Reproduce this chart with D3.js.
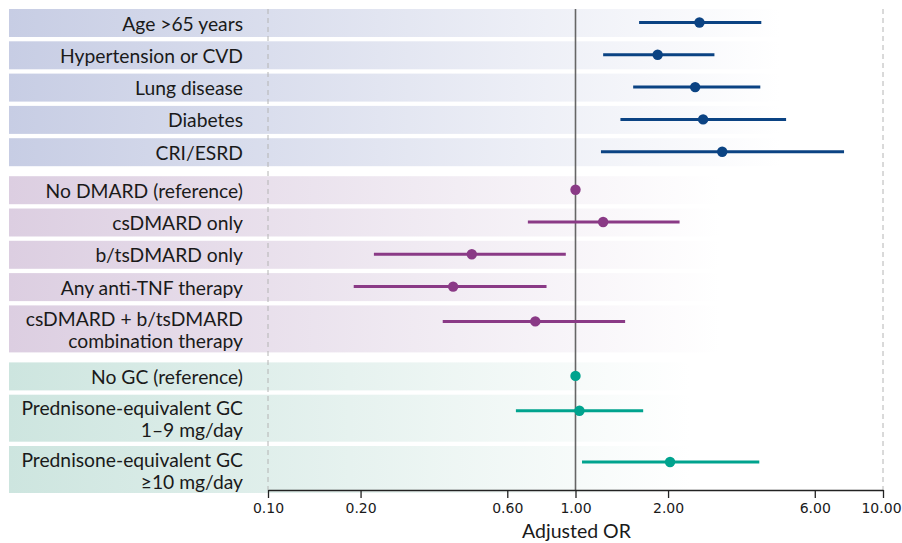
<!DOCTYPE html>
<html>
<head>
<meta charset="utf-8">
<script src="https://cdn.jsdelivr.net/npm/d3@7"></script>
<style>
  body { margin: 0; background: #fff; }
  svg { display: block; }
</style>
</head>
<body>
<div id="forest"></div>
<script>
const margins = {top: 9, left: 9, width: 902, height: 543};

// rows, top to bottom
const labels = [
    ["Age >65 years"],
    ["Hypertension or CVD"],
    ["Lung disease"],
    ["Diabetes"],
    ["CRI/ESRD"],
    ["No DMARD (reference)"],
    ["csDMARD only"],
    ["b/tsDMARD only"],
    ["Any anti-TNF therapy"],
    ["csDMARD + b/tsDMARD", "combination therapy"],
    ["No GC (reference)"],
    ["Prednisone-equivalent GC", "1\u20139 mg/day"],
    ["Prednisone-equivalent GC", "\u226510 mg/day"]
];
const groups = ["risk", "risk", "risk", "risk", "risk",
    "dmard", "dmard", "dmard", "dmard", "dmard",
    "gc", "gc", "gc"];
const orValues = [2.53, 1.85, 2.45, 2.60, 3.00, 1.00, 1.23, 0.46, 0.40, 0.74, 1.00, 1.03, 2.03];
const ciLow    = [1.61, 1.23, 1.54, 1.40, 1.21, null, 0.70, 0.221, 0.19, 0.37, null, 0.64, 1.05];
const ciHigh   = [4.02, 2.83, 3.99, 4.84, 7.47, null, 2.18, 0.93, 0.805, 1.45, null, 1.66, 3.96];
const tickValues = [0.10, 0.20, 0.60, 1.00, 2.00, 6.00, 10.00];

const groupColors = {risk: "#0b4383", dmard: "#8a3a86", gc: "#00a38e"};
const bandColors = {risk: "#c7cde4", dmard: "#dccee1", gc: "#cde5df"};
const bandEnds = {risk: 780, dmard: 720, gc: 690};

const svg = d3.select("#forest")
    .append("svg")
    .attr("width", margins.width)
    .attr("height", margins.height)
    .append("g");

const xScale = d3.scaleLog()
    .domain([0.1, 10])
    .range([268, 883]);

// row layout: one-line rows 28px, two-line rows 47px, 4.3px gap, 10px between groups
const rows = [];
let yCursor = margins.top;
labels.forEach((lab, i) => {
    if (i > 0) yCursor += (groups[i] !== groups[i - 1]) ? 10 : 4.3;
    const h = lab.length > 1 ? 47 : 28;
    rows.push({
        label: lab, group: groups[i], or: orValues[i], lo: ciLow[i], hi: ciHigh[i],
        top: yCursor, h: h, cy: yCursor + (lab.length > 1 ? 16 : 13.5)
    });
    yCursor += h;
});
const axisY = 490;

// gradients per group
const defs = svg.append("defs");
Object.keys(bandColors).forEach(g => {
    const grad = defs.append("linearGradient")
        .attr("id", "band-" + g)
        .attr("x1", "0%").attr("x2", "100%")
        .attr("y1", "0%").attr("y2", "0%");
    grad.append("stop").attr("offset", "0%").attr("stop-color", bandColors[g]);
    grad.append("stop").attr("offset", "100%").attr("stop-color", "#ffffff");
});

svg.selectAll(".band")
    .data(rows)
    .enter().append("rect")
    .attr("class", "band")
    .attr("x", margins.left)
    .attr("y", d => d.top)
    .attr("width", d => bandEnds[d.group] - margins.left)
    .attr("height", d => d.h)
    .style("fill", d => "url(#band-" + d.group + ")");

// dashed limits at 0.1 and 10
svg.selectAll(".limit")
    .data([0.1, 10])
    .enter().append("line")
    .attr("x1", d => xScale(d)).attr("x2", d => xScale(d))
    .attr("y1", margins.top).attr("y2", axisY)
    .style("stroke", "#b4b4b4")
    .style("stroke-width", 1)
    .style("stroke-dasharray", "5,4");

// reference line at OR = 1
svg.append("line")
    .attr("x1", xScale(1)).attr("x2", xScale(1))
    .attr("y1", margins.top).attr("y2", axisY)
    .style("stroke", "#666")
    .style("stroke-width", 1.6);

// labels
const labelG = svg.selectAll(".row-label")
    .data(rows)
    .enter().append("text")
    .attr("class", "row-label")
    .attr("text-anchor", "end")
    .style("font-family", "Lato, 'Open Sans', sans-serif")
    .style("font-size", "19.3px")
    .style("fill", "#1a1a1a");
labelG.each(function (d) {
    const t = d3.select(this);
    d.label.forEach((line, j) => {
        t.append("tspan")
            .attr("x", 243)
            .attr("y", d.label.length > 1 ? d.top + 13 + j * 22 : d.top + d.h / 2)
            .attr("dominant-baseline", "central")
            .text(line);
    });
});

// CI lines
svg.selectAll(".ci")
    .data(rows.filter(d => d.lo !== null))
    .enter().append("line")
    .attr("class", "ci")
    .attr("x1", d => xScale(d.lo)).attr("x2", d => xScale(d.hi))
    .attr("y1", d => d.cy).attr("y2", d => d.cy)
    .style("stroke", d => groupColors[d.group])
    .style("stroke-width", 3);

svg.selectAll(".pt")
    .data(rows)
    .enter().append("circle")
    .attr("class", "pt")
    .attr("cx", d => xScale(d.or))
    .attr("cy", d => d.cy)
    .attr("r", 5.2)
    .style("fill", d => groupColors[d.group]);

// x axis
const xAxis = svg.append("g")
    .attr("transform", "translate(0," + axisY + ")")
    .call(d3.axisBottom(xScale)
        .tickValues(tickValues)
        .tickFormat(d3.format(".2f"))
        .tickSize(8)
        .tickSizeOuter(0));
xAxis.select(".domain").style("stroke", "#222").style("stroke-width", 1.3);
xAxis.selectAll(".tick line").style("stroke", "#222").style("stroke-width", 1.3);
xAxis.selectAll(".tick text")
    .attr("y", 13)
    .attr("dx", d => d === 10 ? -2 : 0)
    .style("font-family", "'DejaVu Sans', sans-serif")
    .style("font-size", "14px")
    .style("fill", "#1a1a1a");

svg.append("text")
    .attr("x", xScale(1) + 1)
    .attr("y", 538)
    .attr("text-anchor", "middle")
    .style("font-family", "Lato, 'Open Sans', sans-serif")
    .style("font-size", "19.5px")
    .style("fill", "#1a1a1a")
    .text("Adjusted OR");
</script>
</body>
</html>
